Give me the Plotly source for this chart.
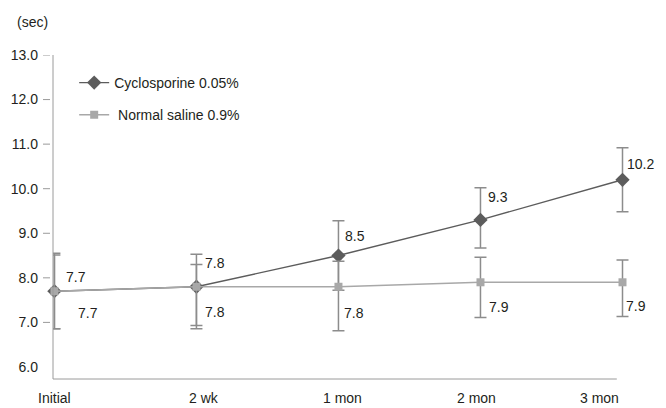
import plotly.graph_objects as go

# Tear film breakup time over follow-up visits
visits = ["Initial", "2 wk", "1 mon", "2 mon", "3 mon"]
cyclosporine = [7.7, 7.8, 8.5, 9.3, 10.2]
saline = [7.7, 7.8, 7.8, 7.9, 7.9]

# Error bar extents (upper / lower) for each group
cyclosporine_err_up = [0.85, 0.73, 0.78, 0.72, 0.72]
cyclosporine_err_down = [0.84, 0.87, 0.78, 0.63, 0.72]
saline_err_up = [0.81, 0.50, 0.57, 0.56, 0.50]
saline_err_down = [0.84, 0.94, 0.99, 0.79, 0.77]

y_ticks = [6, 7, 8, 9, 10, 11, 12, 13]
y_ticks_marked = [7, 8, 9, 10, 11, 12, 13]

# Pixel nudges for the value labels (x, y)
cyc_label_shift = [(10, 14), (7, 24), (5, 20), (6, 23), (2, 16)]
sal_label_shift = [(22, -22), (7, -25), (4, -26), (7, -25), (1, -24)]
# Horizontal nudges for the visit labels under the baseline
visit_label_shift = [0, 8, 4, -4, -23]

FONT = "Liberation Sans, Arial, Helvetica, sans-serif"
TEXT = "#231f20"
ERR = "#8c8c8c"
CYC = "#5c5c5c"
SAL = "#a8a8a8"
AXIS = "#9a9a9a"

xpos = list(range(len(visits)))

fig = go.Figure()

fig.add_trace(go.Scatter(
    x=xpos, y=cyclosporine, mode="lines+markers", name="Cyclosporine 0.05%",
    line=dict(color=CYC, width=1.4),
    marker=dict(symbol="diamond", size=11, color=CYC),
    error_y=dict(type="data", symmetric=False, array=cyclosporine_err_up,
                 arrayminus=cyclosporine_err_down, color=ERR, thickness=1.5, width=6),
    cliponaxis=False, legend="legend",
))
fig.add_trace(go.Scatter(
    x=xpos, y=saline, mode="lines+markers", name="\u00a0Normal saline 0.9%",
    line=dict(color=SAL, width=1.5),
    marker=dict(symbol="square", size=8, color=SAL),
    error_y=dict(type="data", symmetric=False, array=saline_err_up,
                 arrayminus=saline_err_down, color=ERR, thickness=1.5, width=6),
    cliponaxis=False, legend="legend2",
))

label_font = dict(family=FONT, size=14, color=TEXT)

annotations = []
for i, v in enumerate(cyclosporine):
    dx, dy = cyc_label_shift[i]
    annotations.append(dict(x=xpos[i], y=v, text=f"{v:.1f}", showarrow=False,
                            xanchor="left", yanchor="middle", xshift=dx, yshift=dy,
                            font=label_font))
for i, v in enumerate(saline):
    dx, dy = sal_label_shift[i]
    annotations.append(dict(x=xpos[i], y=v, text=f"{v:.1f}", showarrow=False,
                            xanchor="left", yanchor="middle", xshift=dx, yshift=dy,
                            font=label_font))

# visit names under the baseline
for i, name in enumerate(visits):
    annotations.append(dict(x=xpos[i], xref="x", yref="paper", y=0, text=name,
                            showarrow=False, xanchor="center", yanchor="middle",
                            xshift=visit_label_shift[i], yshift=-19, font=label_font))

annotations.append(dict(xref="paper", yref="paper", x=-0.063, y=1.102, text="(sec)",
                        showarrow=False, xanchor="left", yanchor="middle",
                        font=label_font))

# axis frame: vertical value axis, short detached tick dashes, and a baseline
shapes = [
    dict(type="line", xref="paper", yref="paper", x0=0, x1=0, y0=0, y1=1,
         line=dict(color=AXIS, width=1)),
    dict(type="line", xref="x", yref="paper", x0=-0.01, x1=3.96, y0=0, y1=0,
         line=dict(color=AXIS, width=1)),
]
for t in y_ticks_marked:
    shapes.append(dict(type="line", xref="paper", xsizemode="pixel", xanchor=0,
                       x0=-10, x1=-3, yref="y", y0=t, y1=t,
                       line=dict(color=AXIS, width=1)))

legend_style = dict(font=label_font, bgcolor="rgba(0,0,0,0)", borderwidth=0,
                    xanchor="left", yanchor="top", itemclick=False)

fig.update_layout(
    width=666, height=408,
    margin=dict(l=53, r=8, t=55, b=29),
    paper_bgcolor="white", plot_bgcolor="white",
    font=dict(family=FONT, size=14, color=TEXT),
    showlegend=True,
    legend=dict(x=0.035, y=0.963, **legend_style),
    legend2=dict(x=0.035, y=0.864, **legend_style),
    xaxis=dict(range=[-0.01, 4.25], showticklabels=False,
               showline=False, showgrid=False, zeroline=False, ticks="",
               automargin=False),
    yaxis=dict(range=[5.73, 13.0], tickmode="array", tickvals=y_ticks,
               ticktext=[f"{t:.1f}" for t in y_ticks],
               showline=False, ticks="", automargin=False,
               ticklabelstandoff=14, showgrid=False, zeroline=False,
               tickfont=label_font),
    annotations=annotations,
    shapes=shapes,
)

fig.write_html("out.html")
